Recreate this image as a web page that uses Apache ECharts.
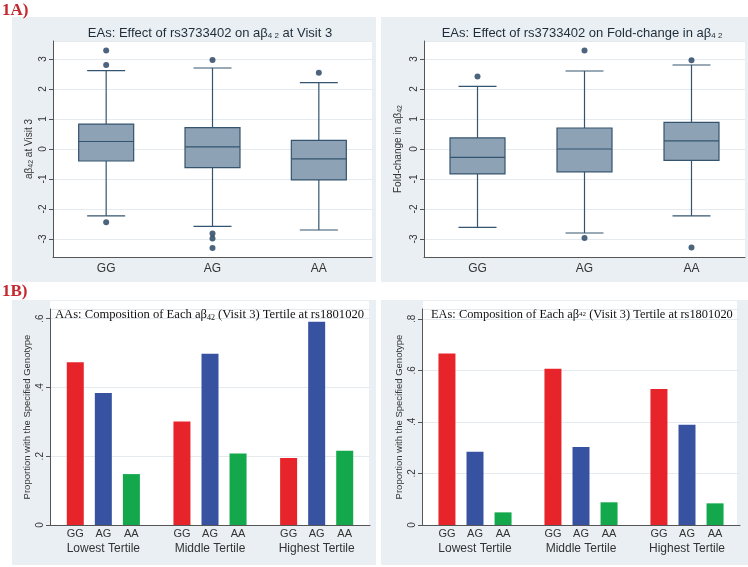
<!DOCTYPE html>
<html>
<head>
<meta charset="utf-8">
<script src="https://cdn.jsdelivr.net/npm/echarts@6/dist/echarts.min.js"></script>
<style>
  html, body { margin: 0; padding: 0; background: #fff; }
  #chart { width: 748px; height: 567px; }
</style>
</head>
<body>
<div id="chart"></div>
<script>
  // box plots: [lower whisker, Q1, median, Q3, upper whisker]
  const genotypes = ['GG', 'AG', 'AA'];
  const visit3Box = [
    [-2.23, -0.40, 0.25, 0.83, 2.61],
    [-2.58, -0.62, 0.07, 0.71, 2.70],
    [-2.70, -1.03, -0.33, 0.29, 2.21],
  ];
  const visit3Outliers = [[0, 3.28], [0, 2.80], [0, -2.44], [1, 2.97], [1, -2.82], [1, -2.98], [1, -3.30], [2, 2.54]];
  const foldBox = [
    [-2.61, -0.83, -0.28, 0.37, 2.09],
    [-2.80, -0.76, 0.00, 0.70, 2.60],
    [-2.23, -0.38, 0.27, 0.89, 2.80],
  ];
  const foldOutliers = [[0, 2.42], [1, 3.28], [1, -2.97], [2, 2.96], [2, -3.28]];

  // bar charts: share of each genotype within each tertile
  const tertiles = ['Lowest Tertile', 'Middle Tertile', 'Highest Tertile'];
  const aasGG = [0.473, 0.301, 0.195];
  const aasAG = [0.384, 0.498, 0.591];
  const aasAA = [0.148, 0.208, 0.216];
  const easGG = [0.665, 0.606, 0.528];
  const easAG = [0.284, 0.303, 0.389];
  const easAA = [0.049, 0.088, 0.084];

  const sans = '"Liberation Sans", Arial, sans-serif';
  const serif = '"Liberation Serif", "Times New Roman", serif';
  const panelBg = '#e9eff2';
  const gridColor = '#e4eaee';
  const axisColor = '#555';
  const boxFill = '#8da2b4';
  const boxStroke = '#35546f';
  const barColors = ['#e8242b', '#3852a2', '#13a84b'];

  const renderBox = (params, api) => {
    const i = api.value(0);
    const p = [1, 2, 3, 4, 5].map((k) => api.coord([i, api.value(k)]));
    const x = p[0][0];
    const bw = 55, cw = 38;
    const st = { stroke: boxStroke, lineWidth: 1.2 };
    return {
      type: 'group',
      children: [
        { type: 'line', shape: { x1: x, y1: p[0][1], x2: x, y2: p[1][1] }, style: st },
        { type: 'line', shape: { x1: x, y1: p[3][1], x2: x, y2: p[4][1] }, style: st },
        { type: 'line', shape: { x1: x - cw / 2, y1: p[0][1], x2: x + cw / 2, y2: p[0][1] }, style: st },
        { type: 'line', shape: { x1: x - cw / 2, y1: p[4][1], x2: x + cw / 2, y2: p[4][1] }, style: st },
        { type: 'rect', shape: { x: x - bw / 2, y: p[3][1], width: bw, height: p[1][1] - p[3][1] },
          style: { fill: boxFill, stroke: boxStroke, lineWidth: 1.2 } },
        { type: 'line', shape: { x1: x - bw / 2, y1: p[2][1], x2: x + bw / 2, y2: p[2][1] }, style: st },
      ],
    };
  };

  const boxYAxis = (gridIndex, name, gap) => ({
    type: 'value',
    gridIndex,
    min: -3.6,
    max: 3.6,
    splitNumber: 7,
    name,
    nameLocation: 'middle',
    nameGap: gap,
    nameTextStyle: {
      fontFamily: sans, fontSize: 10, color: '#333',
      rich: { s: { fontFamily: sans, fontSize: 7, color: '#333', padding: [5, 0, 0, 0] } },
    },
    axisLine: { show: true, lineStyle: { color: axisColor } },
    axisTick: { show: true, length: 4, lineStyle: { color: axisColor } },
    axisLabel: { rotate: 90, fontFamily: sans, fontSize: 10, color: '#333', margin: 5, showMinLabel: false, showMaxLabel: false },
    splitLine: { lineStyle: { color: gridColor } },
  });

  const barYAxis = (gridIndex, max) => ({
    type: 'value',
    gridIndex,
    min: 0,
    max,
    interval: 0.2,
    name: 'Proportion with the Specified Genotype',
    nameLocation: 'middle',
    nameGap: 18,
    nameTextStyle: { fontFamily: sans, fontSize: 9.5, color: '#333' },
    axisLine: { show: true, lineStyle: { color: axisColor } },
    axisTick: { show: true, length: 4, lineStyle: { color: axisColor } },
    axisLabel: {
      rotate: 90, fontFamily: sans, fontSize: 10, color: '#333', margin: 5, showMaxLabel: false,
      formatter: (v) => (v === 0 ? '0' : String(+v.toFixed(1)).replace('0.', '.')),
    },
    splitLine: { lineStyle: { color: gridColor } },
  });

  const catAxis = (gridIndex, data) => ({
    type: 'category',
    gridIndex,
    data,
    axisLine: { show: true, onZero: false, lineStyle: { color: axisColor } },
    axisTick: { show: false },
    axisLabel: { fontFamily: sans, fontSize: 12, color: '#333', margin: 6 },
  });

  const tertileAxis = (gridIndex) => ({
    type: 'category',
    gridIndex,
    data: tertiles,
    axisLine: { show: true, onZero: false, lineStyle: { color: axisColor } },
    axisTick: { show: false },
    axisLabel: {
      interval: 0,
      margin: 1,
      formatter: (v) => genotypes.map((g) => '{g|' + g + '}').join('') + '\n{t|' + v + '}',
      rich: {
        g: { width: 28, align: 'center', fontFamily: sans, fontSize: 11, color: '#333', lineHeight: 15 },
        t: { fontFamily: sans, fontSize: 12, color: '#333', lineHeight: 16 },
      },
    },
  });

  const barSeries = (idx, values, colorIndex) => ({
    type: 'bar',
    xAxisIndex: idx,
    yAxisIndex: idx,
    data: values,
    barWidth: 17,
    barGap: '65%',
    itemStyle: { color: barColors[colorIndex] },
  });

  const rect = (x, y, w, h, fill) => ({ type: 'rect', z: -10, shape: { x, y, width: w, height: h }, style: { fill }, silent: true });

  const option = {
    animation: false,
    backgroundColor: '#fff',
    graphic: [
      rect(12, 17, 364, 265, panelBg),
      rect(381, 17, 367, 265, panelBg),
      rect(12, 300, 364, 265, panelBg),
      rect(381, 300, 367, 265, panelBg),
      rect(53, 41, 319, 216, '#fff'),
      rect(424, 41, 321, 216, '#fff'),
      rect(50, 301, 319, 224, '#fff'),
      rect(423, 301, 314, 224, '#fff'),
      { type: 'text', x: 2, y: 2, style: { text: '1A)', font: 'bold 17px ' + serif, fill: '#c5282f' } },
      { type: 'text', x: 2, y: 283, style: { text: '1B)', font: 'bold 17px ' + serif, fill: '#c5282f' } },
      {
        type: 'text', x: 210, y: 33, z: 10,
        style: {
          text: '{n|EAs: Effect of rs3733402 on aβ}{s|4 2}{n| at Visit 3}',
          align: 'center', verticalAlign: 'middle',
          rich: {
            n: { fontFamily: sans, fontSize: 13, fill: '#1f2d3a' },
            s: { fontFamily: sans, fontSize: 8, fill: '#1f2d3a', padding: [6, 0, 0, 0] },
          },
        },
      },
      {
        type: 'text', x: 582, y: 33, z: 10,
        style: {
          text: '{n|EAs: Effect of rs3733402 on Fold-change in aβ}{s|4 2}',
          align: 'center', verticalAlign: 'middle',
          rich: {
            n: { fontFamily: sans, fontSize: 13, fill: '#1f2d3a' },
            s: { fontFamily: sans, fontSize: 8, fill: '#1f2d3a', padding: [6, 0, 0, 0] },
          },
        },
      },
      {
        type: 'text', x: 55, y: 315, z: 10,
        style: {
          text: '{n|AAs: Composition of Each aβ}{s|42}{n| (Visit 3) Tertile at rs1801020}',
          align: 'left', verticalAlign: 'middle',
          rich: {
            n: { fontFamily: serif, fontSize: 12.6, fill: '#111' },
            s: { fontFamily: serif, fontSize: 8, fill: '#111', padding: [6, 0, 0, 0] },
          },
        },
      },
      {
        type: 'text', x: 431, y: 315, z: 10,
        style: {
          text: '{n|EAs: Composition of Each aβ}{s|42}{n| (Visit 3) Tertile at rs1801020}',
          align: 'left', verticalAlign: 'middle',
          rich: {
            n: { fontFamily: serif, fontSize: 12.4, fill: '#111' },
            s: { fontFamily: serif, fontSize: 7, fill: '#111', padding: [0, 0, 2, 0] },
          },
        },
      },
    ],
    grid: [
      { left: 53, top: 41, width: 319, height: 216 },
      { left: 424, top: 41, width: 321, height: 216 },
      { left: 50, top: 309, width: 320, height: 216 },
      { left: 422, top: 309, width: 318, height: 216 },
    ],
    xAxis: [
      catAxis(0, genotypes),
      catAxis(1, genotypes),
      tertileAxis(2),
      tertileAxis(3),
    ],
    yAxis: [
      boxYAxis(0, 'aβ{s|42} at Visit 3', 18),
      boxYAxis(1, 'Fold-change in aβ{s|42}', 20),
      barYAxis(2, 0.628),
      barYAxis(3, 0.838),
    ],
    series: [
      {
        type: 'custom', xAxisIndex: 0, yAxisIndex: 0, renderItem: renderBox,
        encode: { x: 0, y: [1, 2, 3, 4, 5] },
        data: visit3Box.map((d, i) => [i, ...d]),
      },
      {
        type: 'scatter', xAxisIndex: 0, yAxisIndex: 0, data: visit3Outliers,
        symbolSize: 6, itemStyle: { color: '#1f3d5c' },
      },
      {
        type: 'custom', xAxisIndex: 1, yAxisIndex: 1, renderItem: renderBox,
        encode: { x: 0, y: [1, 2, 3, 4, 5] },
        data: foldBox.map((d, i) => [i, ...d]),
      },
      {
        type: 'scatter', xAxisIndex: 1, yAxisIndex: 1, data: foldOutliers,
        symbolSize: 6, itemStyle: { color: '#1f3d5c' },
      },
      barSeries(2, aasGG, 0),
      barSeries(2, aasAG, 1),
      barSeries(2, aasAA, 2),
      barSeries(3, easGG, 0),
      barSeries(3, easAG, 1),
      barSeries(3, easAA, 2),
    ],
  };

  const chart = echarts.init(document.getElementById('chart'));
  chart.setOption(option);
</script>
</body>
</html>
